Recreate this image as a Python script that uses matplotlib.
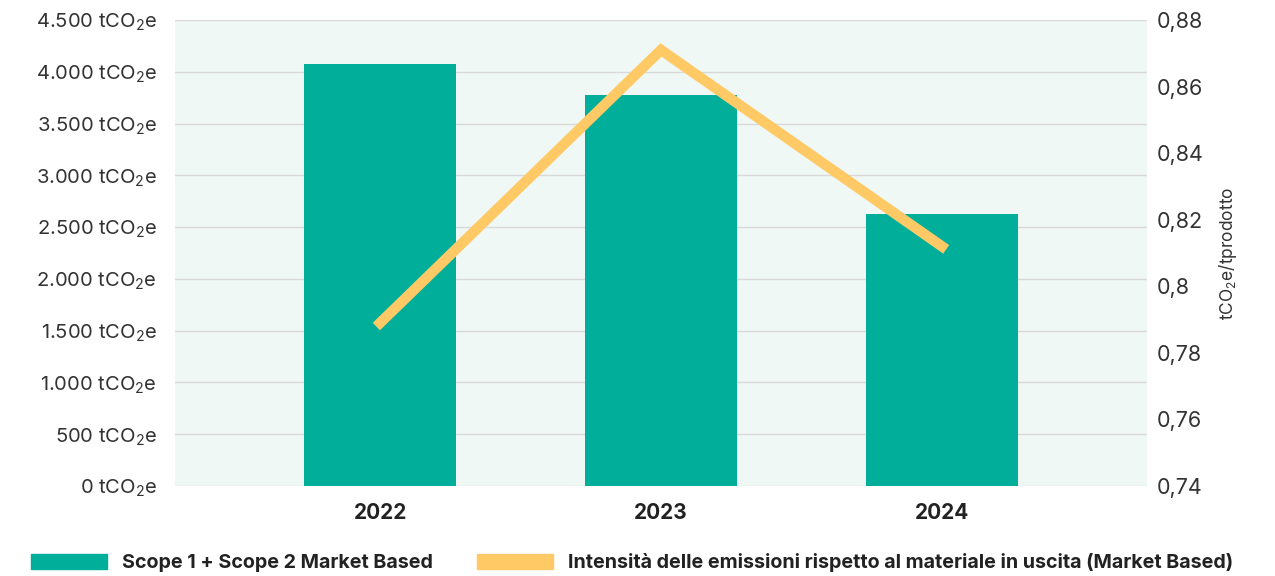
import matplotlib.pyplot as plt
from matplotlib.patches import Patch
from matplotlib.ticker import FuncFormatter

plt.rcParams['font.family'] = ['Inter', 'DejaVu Sans']
plt.rcParams['mathtext.fontset'] = 'custom'
plt.rcParams['mathtext.rm'] = 'Inter'
plt.rcParams['mathtext.it'] = 'Inter'

# data
years = ['2022', '2023', '2024']
scope_emissions = [4075, 3775, 2625]        # tCO2e
intensity = [0.789, 0.871, 0.812]           # tCO2e/tprodotto
bar_label = 'Scope 1 + Scope 2 Market Based'
line_label = 'Intensità delle emissioni rispetto al materiale in uscita (Market Based)'

bar_color = '#00ae99'
line_color = '#ffc966'
text_color = '#333333'

fig = plt.figure(figsize=(12.75, 5.76), dpi=100)
ax = fig.add_axes([175 / 1275, 1 - 486 / 576, 972 / 1275, 466 / 576])
ax.set_facecolor('#eff8f5')

x = list(range(len(years)))
ax.bar(x, scope_emissions, width=0.54, color=bar_color, zorder=2)
ax.set_xlim(-0.73, 2.73)
ax.set_ylim(0, 4500)
ax.set_yticks(range(0, 4501, 500))

def fmt_left(v, pos):
    s = f'{int(v):,}'.replace(',', '.')
    return s + r' tCO$_2$e'

ax.yaxis.set_major_formatter(FuncFormatter(fmt_left))
ax.grid(axis='y', color='#d9d9d9', linewidth=1, zorder=0)
ax.set_axisbelow(True)
ax.set_xticks(x)
ax.set_xticklabels(years, fontweight='bold', fontsize=15, color='#222222')
ax.tick_params(axis='y', length=0, labelsize=14.5, labelcolor=text_color, pad=13)
ax.tick_params(axis='x', length=0, pad=12)
for s in ax.spines.values():
    s.set_visible(False)

ax2 = ax.twinx()
ax2.plot(x, intensity, color=line_color, linewidth=7.5, solid_joinstyle='miter', zorder=3)
ax2.set_ylim(0.74, 0.88)
ax2.set_yticks([0.74, 0.76, 0.78, 0.80, 0.82, 0.84, 0.86, 0.88])

def fmt_right(v, pos):
    s = f'{v:.2f}'.rstrip('0').rstrip('.')
    return s.replace('.', ',')

ax2.yaxis.set_major_formatter(FuncFormatter(fmt_right))
ax2.tick_params(axis='y', length=0, labelsize=15.5, labelcolor=text_color, pad=7)
ax2.set_ylabel(r'tCO$_2$e/tprodotto', fontsize=12.5, color=text_color, labelpad=10)
for s in ax2.spines.values():
    s.set_visible(False)

handles = [Patch(color=bar_color, label=bar_label), Patch(color=line_color, label=line_label)]
leg = fig.legend(handles=handles, loc='center left', bbox_to_anchor=(31 / 1275, 1 - 563 / 576), ncol=2,
                 frameon=False, handlelength=3.85, handleheight=0.75, handletextpad=0.78,
                 columnspacing=2.2, borderpad=0, borderaxespad=0,
                 prop={'weight': 'bold', 'size': 14.2})
for t in leg.get_texts():
    t.set_color('#222222')

fig.savefig('out.png', dpi=100)
